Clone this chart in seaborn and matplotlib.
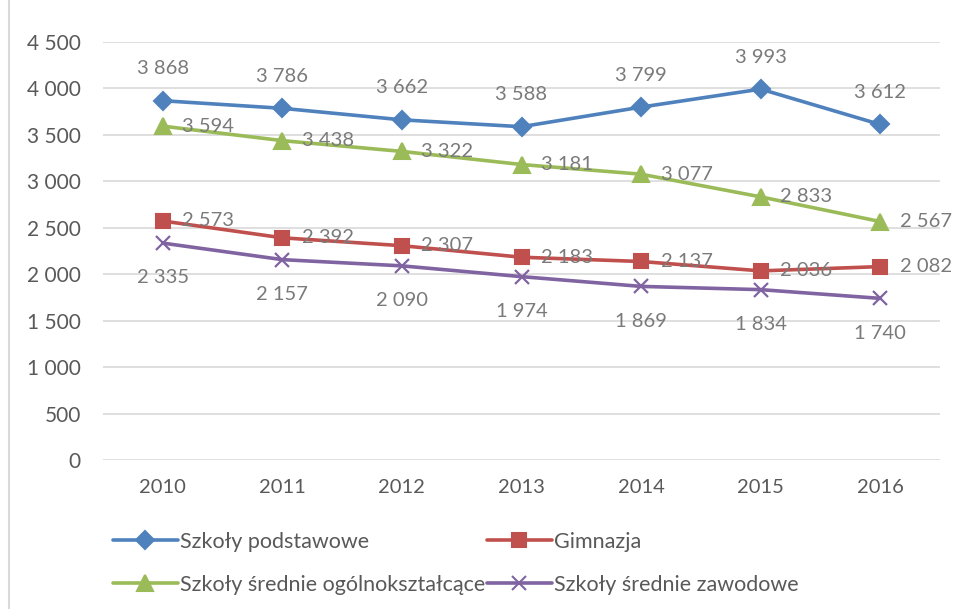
import matplotlib
matplotlib.use("Agg")
import matplotlib.pyplot as plt
import seaborn as sns
import pandas as pd
from matplotlib.lines import Line2D

years = ["2010", "2011", "2012", "2013", "2014", "2015", "2016"]
series_names = ["Szkoły podstawowe", "Gimnazja",
                "Szkoły średnie ogólnokształcące", "Szkoły średnie zawodowe"]
podstawowe = [3868, 3786, 3662, 3588, 3799, 3993, 3612]
gimnazja = [2573, 2392, 2307, 2183, 2137, 2036, 2082]
ogolnoksztalcace = [3594, 3438, 3322, 3181, 3077, 2833, 2567]
zawodowe = [2335, 2157, 2090, 1974, 1869, 1834, 1740]
yticks = [0, 500, 1000, 1500, 2000, 2500, 3000, 3500, 4000, 4500]

sns.set_theme(style="white")
plt.rcParams['font.family'] = ['Lato', 'DejaVu Sans']

colors = ["#4F81BD", "#C0504D", "#9BBB59", "#8064A2"]
markers = ["D", "s", "^", "x"]
msizes = [9, 10, 11, 10]
label_pos = ["above", "right", "right", "below"]
all_vals = [podstawowe, gimnazja, ogolnoksztalcace, zawodowe]

fig = plt.figure(figsize=(9.55, 6.09), dpi=100)
ax = fig.add_axes([103/955, 1-460/609, (940-103)/955, (460-42)/609])

def fmt(v):
    return f"{v:,}".replace(",", " ")

LBL = 14.5
LBLC = "#7A7A7A"
for name, vals, c, m, ms, lp in zip(series_names, all_vals, colors, markers, msizes, label_pos):
    df = pd.DataFrame({"x": range(len(years)), "y": vals})
    sns.lineplot(data=df, x="x", y="y", ax=ax, color=c, linewidth=2.6,
                 marker=m, markersize=ms, markeredgecolor=c,
                 markeredgewidth=1.5 if m != "x" else 1.6, legend=False, zorder=3)
    for i, v in enumerate(vals):
        if lp == "above":
            ax.annotate(fmt(v), (i, v), xytext=(0, 23), textcoords="offset points",
                        ha="center", va="center", fontsize=LBL, color=LBLC,
                        annotation_clip=False)
        elif lp == "below":
            ax.annotate(fmt(v), (i, v), xytext=(0, -25), textcoords="offset points",
                        ha="center", va="center", fontsize=LBL, color=LBLC,
                        annotation_clip=False)
        else:
            ax.annotate(fmt(v), (i, v), xytext=(14, 0), textcoords="offset points",
                        ha="left", va="center", fontsize=LBL, color=LBLC,
                        annotation_clip=False, zorder=4)

ax.set_xlim(-0.5, len(years) - 0.5)
ax.set_ylim(0, 4500)
ax.set_xticks(range(len(years)))
ax.set_xticklabels(years)
ax.set_yticks(yticks)
ax.set_yticklabels([fmt(t) for t in yticks])
ax.tick_params(axis="y", length=0, pad=16, labelsize=15, labelcolor="#595959")
ax.tick_params(axis="x", length=0, pad=14, labelsize=14.5, labelcolor="#595959")
ax.set_xlabel("")
ax.set_ylabel("")
ax.grid(axis="y", color="#D9D9D9", linewidth=1.2)
ax.grid(axis="x", visible=False)
for s in ax.spines.values():
    s.set_visible(False)
ax.set_axisbelow(True)

# chart frame left edge
fig.add_artist(Line2D([9/955, 9/955], [0, 1], transform=fig.transFigure,
                      color="#D9D9D9", linewidth=1.5))

handles = [Line2D([], [], color=c, marker=m, markersize=ms, linewidth=2.6,
                  markeredgecolor=c, markeredgewidth=1.5)
           for c, m, ms in zip(colors, markers, msizes)]
order = [0, 2, 1, 3]  # fill row by row: blue, red / green, purple
fig.legend([handles[i] for i in order], [series_names[i] for i in order],
           ncol=2, loc="upper left",
           bbox_to_anchor=(113/955, 1-532/609), frameon=False,
           fontsize=15.5, labelcolor="#595959", handlelength=3.0,
           handletextpad=0.1, columnspacing=0.1, labelspacing=1.05,
           borderaxespad=0, borderpad=0)

fig.savefig("out.png", dpi=100)
